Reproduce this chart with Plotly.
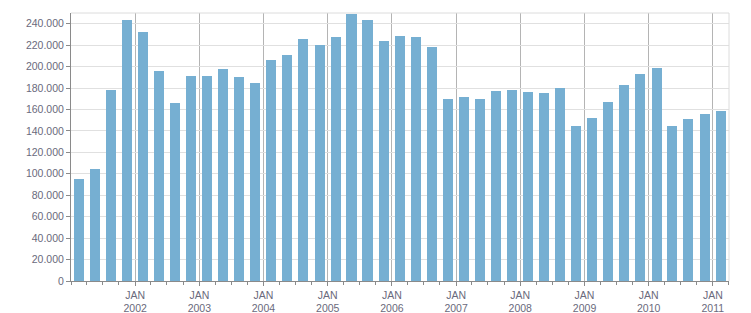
import pandas as pd
import plotly.graph_objects as go

# Quarterly values, Q1 2001 .. Q1 2011
quarter_starts = pd.date_range("2001-01-01", "2011-01-01", freq="QS")
values = [
    95100, 104500, 178200, 243500,   # 2001
    232300, 195900, 166000, 191200,  # 2002
    191200, 197800, 190300, 184700,  # 2003
    206200, 210800, 225700, 220100,  # 2004
    227600, 249100, 243500, 223900,  # 2005
    228500, 227600, 218300, 169800,  # 2006
    171600, 169800, 177200, 178200,  # 2007
    176300, 175400, 180000, 144600,  # 2008
    152100, 167000, 182800, 193100,  # 2009
    198700, 144600, 151100, 155800,  # 2010
    158600,                          # 2011
]
year_ticks = pd.date_range("2002-01-01", "2011-01-01", freq="YS")
year_labels = ["JAN<br>%d" % d.year for d in year_ticks]
y_ticks = list(range(0, 240001, 20000))

x_centers = quarter_starts + pd.Timedelta(days=45)
DAY_MS = 86400000

txt = "#6a6a7c"
fig = go.Figure()
fig.add_trace(go.Bar(
    x=x_centers, y=values,
    width=[57 * DAY_MS] * len(values),
    marker=dict(color="#76afd2", line=dict(width=0)),
    hoverinfo="x+y",
))

fig.update_layout(
    width=751, height=313,
    margin=dict(l=71, r=22, t=13, b=32, pad=0),
    plot_bgcolor="white", paper_bgcolor="white",
    separators=",.",
    showlegend=False,
    font=dict(family="Liberation Sans", size=10.5, color=txt),
    xaxis=dict(
        type="date", automargin=False,
        range=["2001-01-01", "2011-04-03"],
        tickvals=list(year_ticks), ticktext=year_labels,
        showgrid=True, gridcolor="#b4b4b4", gridwidth=1,
        showline=True, linecolor="#8a8a8a", linewidth=1,
        ticks="outside", ticklen=4, tickcolor="#8a8a8a",
        minor=dict(dtick="M3", tick0="2001-01-01", ticks="outside",
                   ticklen=3, tickcolor="#8a8a8a", showgrid=False),
        tickfont=dict(size=10.5, color=txt),
        zeroline=False, fixedrange=True,
    ),
    yaxis=dict(
        range=[0, 250000], automargin=False,
        tickvals=y_ticks, tickformat=",d",
        showgrid=True, gridcolor="#e0e0e0", gridwidth=1,
        showline=True, linecolor="#8a8a8a", linewidth=1,
        ticks="outside", ticklen=4, tickcolor="#8a8a8a",
        tickfont=dict(size=10.5, color=txt),
        zeroline=False, fixedrange=True,
    ),
    shapes=[
        dict(type="line", xref="paper", yref="paper", x0=0, x1=1, y0=1, y1=1,
             line=dict(color="#dcdcdc", width=1)),
        dict(type="line", xref="paper", yref="paper", x0=1, x1=1, y0=0, y1=1,
             line=dict(color="#dcdcdc", width=1)),
    ],
    bargap=0,
)

fig.write_html("out.html", config={"displayModeBar": False})
